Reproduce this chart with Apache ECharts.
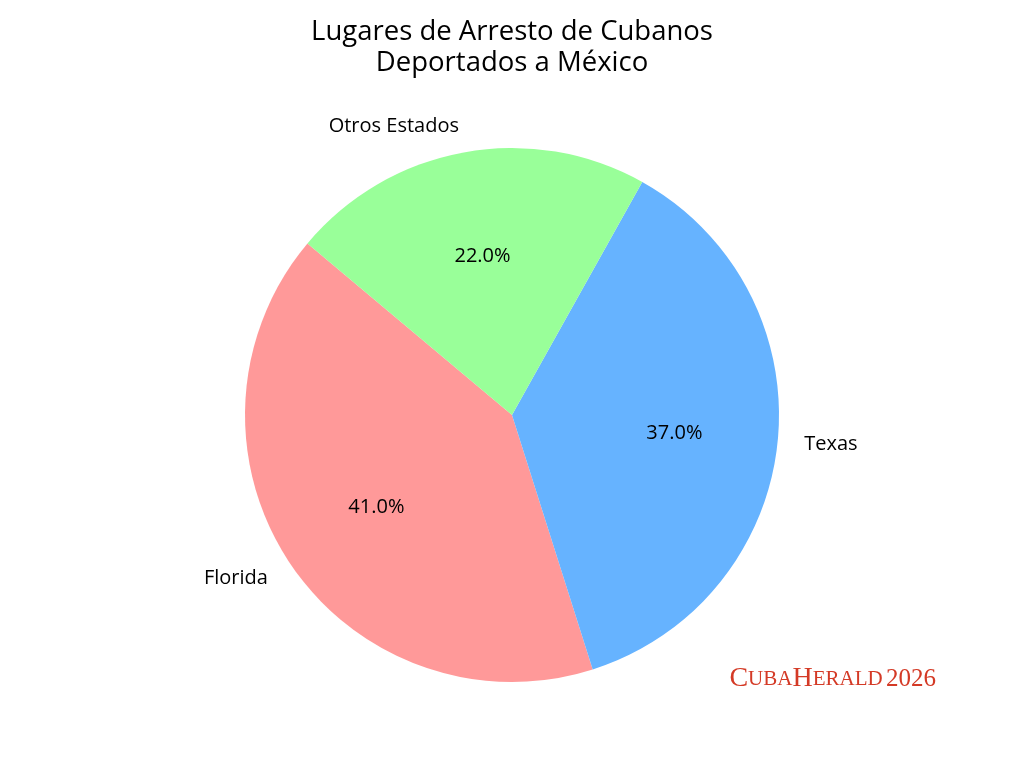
<!DOCTYPE html>
<html><head><meta charset="utf-8">
<script src="https://cdn.jsdelivr.net/npm/echarts@6/dist/echarts.min.js"></script>
<style>html,body{margin:0;padding:0;background:#fff}#c{width:1024px;height:768px}</style>
</head><body><div id="c"></div>
<script>
const categories = ["Florida", "Texas", "Otros Estados"];
const values = [41.0, 37.0, 22.0];
const colors = ["#ff9999", "#66b3ff", "#99ff99"];
const titleLines = ["Lugares de Arresto de Cubanos", "Deportados a México"];

const R = 267;
const font = "'Open Sans', Roboto, sans-serif";
const chart = echarts.init(document.getElementById('c'));
chart.setOption({
  backgroundColor: '#ffffff',
  animation: false,
  title: {
    text: titleLines.join('\n'),
    left: 'center', top: 12,
    textStyle: { fontFamily: font, fontSize: 27.5, fontWeight: 'normal', color: '#000', lineHeight: 31 }
  },
  graphic: [{
    type: 'text', right: 88, top: 665,
    style: {
      text: '{b|C}{s|UBA}{b|H}{s|ERALD} {n|2026}',
      rich: {
        b: { fontFamily: "'Liberation Serif', serif", fontSize: 28, fill: '#d43a26' },
        s: { fontFamily: "'Liberation Serif', serif", fontSize: 21, fill: '#d43a26' },
        n: { fontFamily: "'Liberation Serif', serif", fontSize: 25, fill: '#d43a26' }
      }
    }
  }],
  series: [
    {
      type: 'pie', center: [512, 415], radius: [0, R],
      startAngle: 140, clockwise: false, avoidLabelOverlap: false,
      data: categories.map((c, i) => ({ name: c, value: values[i], itemStyle: { color: colors[i] } })),
      label: { show: true, position: 'outside', formatter: '{b}', fontFamily: font, fontSize: 20, color: '#000', distanceToLabelLine: 0 },
      labelLine: { show: false, length: R * 0.1, length2: 0 },
      emphasis: { disabled: true }
    },
    {
      type: 'pie', center: [512, 417], radius: [0, R * 1.2], silent: true,
      startAngle: 140, clockwise: false, avoidLabelOverlap: false, z: 3,
      data: categories.map((c, i) => ({ name: c, value: values[i], itemStyle: { color: 'rgba(0,0,0,0)' } })),
      label: { show: true, position: 'inside', formatter: p => p.value.toFixed(1) + '%', fontFamily: font, fontSize: 20, color: '#000' },
      labelLine: { show: false },
      emphasis: { disabled: true }
    }
  ]
});
</script></body></html>
